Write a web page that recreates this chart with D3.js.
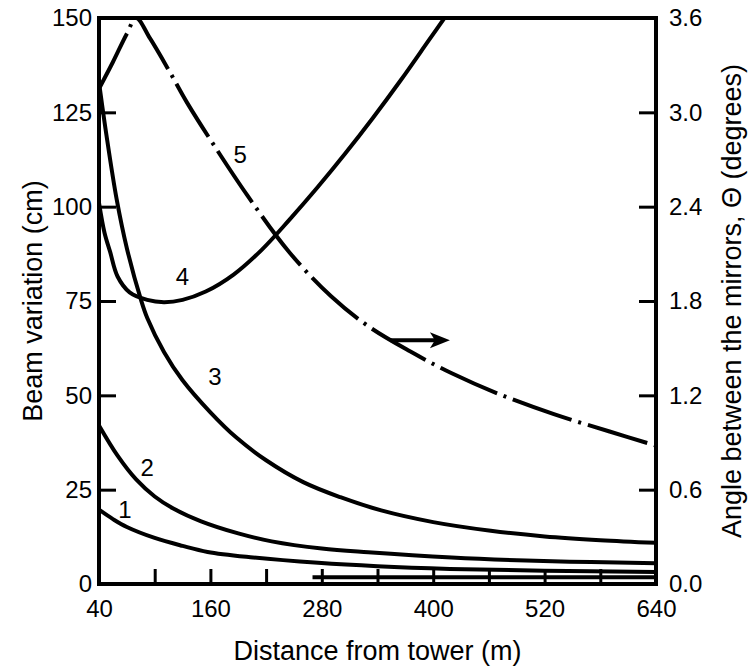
<!DOCTYPE html>
<html>
<head>
<meta charset="utf-8">
<script src="https://cdn.jsdelivr.net/npm/d3@7"></script>
<style>
  body { margin: 0; background: #ffffff; }
  svg { display: block; font-family: "Liberation Sans", Arial, Helvetica, sans-serif; }
</style>
</head>
<body>
<div id="chart"></div>
<script>
// axis ticks
const xTicks = [40, 100, 160, 220, 280, 340, 400, 460, 520, 580, 640];
const xLabelled = [40, 160, 280, 400, 520, 640];
const leftTicks = [0, 25, 50, 75, 100, 125, 150];
const rightTicks = [0, 0.6, 1.2, 1.8, 2.4, 3.0, 3.6];

// beam variation (cm) vs distance (m)
const curve1 = [[40, 19.7], [55, 17.2], [70, 15.1], [100, 12.2], [130, 10.1], [157, 8.5], [203, 7.1], [276, 5.6], [340, 4.7], [418, 4.0], [520, 3.5], [640, 3.2]];
const curve2 = [[40, 42], [60, 34], [80, 27.7], [100, 23.2], [120, 20], [150, 16.6], [190, 13.4], [226, 11.3], [280, 9.4], [330, 8.4], [420, 7.0], [500, 6.2], [570, 5.8], [640, 5.5]];
const curve3 = [[40, 133], [48, 119], [59, 102], [70, 89], [85, 75.5], [92, 70.5], [110, 61.5], [130, 54], [160, 45.5], [188, 38.8], [220, 32.8], [260, 27], [300, 23], [344, 19.5], [400, 16.4], [462, 14.1], [520, 12.6], [580, 11.6], [640, 10.9]];
const curve4 = [[40, 101], [46, 93], [52, 88], [60, 81.5], [73, 77.3], [92, 75.3], [110, 74.7], [130, 75.3], [155, 77.5], [185, 82], [215, 88.5], [245, 96.5], [275, 105], [305, 114], [335, 123.5], [365, 133.5], [395, 144], [415, 151]];
const baseRule = [[270, 1.8], [640, 1.8]];
// angle between the mirrors (degrees), right axis
const curve5 = [[40, 3.15], [55, 3.32], [70, 3.5], [80, 3.6], [95, 3.47], [115, 3.27], [135, 3.06], [165, 2.78], [200, 2.47], [245, 2.11], [290, 1.83], [330, 1.64], [375, 1.48], [420, 1.34], [470, 1.21], [530, 1.08], [590, 0.97], [640, 0.88]];

const curveLabels = [
  { text: "1", d: 68, v: 19.6 },
  { text: "2", d: 92, v: 30.8 },
  { text: "3", d: 165, v: 55 },
  { text: "4", d: 130, v: 81.5 },
  { text: "5", d: 192, v: 113.8 },
];
const arrowLine = [[354, 1.55], [418, 1.55]];

(function () {
  const width = 750;
  const height = 669;
  const plot = { left: 99, right: 656, top: 18, bottom: 584 };

  const svg = d3.select("#chart").append("svg").attr("width", width).attr("height", height);

  const x = d3.scaleLinear().domain([40, 640]).range([plot.left, plot.right]);
  const yLeft = d3.scaleLinear().domain([0, 150]).range([plot.bottom, plot.top]);
  const yRight = d3.scaleLinear().domain([0, 3.6]).range([plot.bottom, plot.top]);

  svg
    .append("defs")
    .append("clipPath")
    .attr("id", "plot-clip")
    .append("rect")
    .attr("x", plot.left)
    .attr("y", plot.top)
    .attr("width", plot.right - plot.left)
    .attr("height", plot.bottom - plot.top);

  const styleAxis = (axis) => {
    axis.select(".domain").remove();
    axis.selectAll("line").attr("stroke", "#000").attr("stroke-width", 3);
    axis.selectAll("text").attr("fill", "#000").attr("font-size", 24).attr("font-family", null);
  };

  svg
    .append("g")
    .attr("transform", `translate(0,${plot.bottom})`)
    .call(
      d3.axisBottom(x).tickValues(xTicks).tickSize(-15).tickPadding(16)
        .tickFormat((d) => (xLabelled.includes(d) ? d : ""))
    )
    .call(styleAxis);

  svg
    .append("g")
    .attr("transform", `translate(${plot.left},0)`)
    .call(d3.axisLeft(yLeft).tickValues(leftTicks).tickSize(-17).tickPadding(7))
    .call(styleAxis);

  svg
    .append("g")
    .attr("transform", `translate(${plot.right},0)`)
    .call(d3.axisRight(yRight).tickValues(rightTicks).tickSize(-17).tickPadding(13).tickFormat(d3.format(".1f")))
    .call(styleAxis);

  const smooth = d3.curveCatmullRom.alpha(0.5);
  const lineLeft = d3.line().x((p) => x(p[0])).y((p) => yLeft(p[1])).curve(smooth);
  const lineRight = d3.line().x((p) => x(p[0])).y((p) => yRight(p[1])).curve(smooth);

  const curves = svg.append("g").attr("clip-path", "url(#plot-clip)").attr("fill", "none").attr("stroke", "#000");

  [curve1, curve2, curve3, curve4, baseRule].forEach((series) => {
    curves.append("path").attr("d", lineLeft(series)).attr("stroke-width", 4);
  });

  curves
    .append("path")
    .attr("d", lineRight(curve5))
    .attr("stroke-width", 4)
    .attr("stroke-dasharray", "62 7 3 7");

  // frame
  svg
    .append("rect")
    .attr("x", plot.left)
    .attr("y", plot.top)
    .attr("width", plot.right - plot.left)
    .attr("height", plot.bottom - plot.top)
    .attr("fill", "none")
    .attr("stroke", "#000")
    .attr("stroke-width", 4);

  // arrow pointing to the right axis
  const [a0, a1] = arrowLine;
  const ax0 = x(a0[0]);
  const ax1 = x(a1[0]);
  const ay = yRight(a0[1]);
  svg
    .append("line")
    .attr("x1", ax0)
    .attr("x2", ax1 - 12)
    .attr("y1", ay)
    .attr("y2", ay)
    .attr("stroke", "#000")
    .attr("stroke-width", 4);
  svg
    .append("path")
    .attr("d", `M${ax1},${ay} L${ax1 - 20},${ay - 8} L${ax1 - 15},${ay} L${ax1 - 20},${ay + 8} Z`)
    .attr("fill", "#000");

  svg
    .append("g")
    .selectAll("text")
    .data(curveLabels)
    .join("text")
    .attr("x", (d) => x(d.d))
    .attr("y", (d) => yLeft(d.v))
    .attr("dy", "0.35em")
    .attr("text-anchor", "middle")
    .attr("font-size", 24)
    .text((d) => d.text);

  svg
    .append("text")
    .attr("x", (plot.left + plot.right) / 2)
    .attr("y", 660)
    .attr("text-anchor", "middle")
    .attr("font-size", 27)
    .text("Distance from tower (m)");

  svg
    .append("text")
    .attr("transform", `translate(42,${(plot.top + plot.bottom) / 2}) rotate(-90)`)
    .attr("text-anchor", "middle")
    .attr("font-size", 27)
    .text("Beam variation (cm)");

  svg
    .append("text")
    .attr("transform", `translate(741,${(plot.top + plot.bottom) / 2}) rotate(-90)`)
    .attr("text-anchor", "middle")
    .attr("font-size", 27)
    .text("Angle between the mirrors, \u0398 (degrees)");
})();
</script>
</body>
</html>
